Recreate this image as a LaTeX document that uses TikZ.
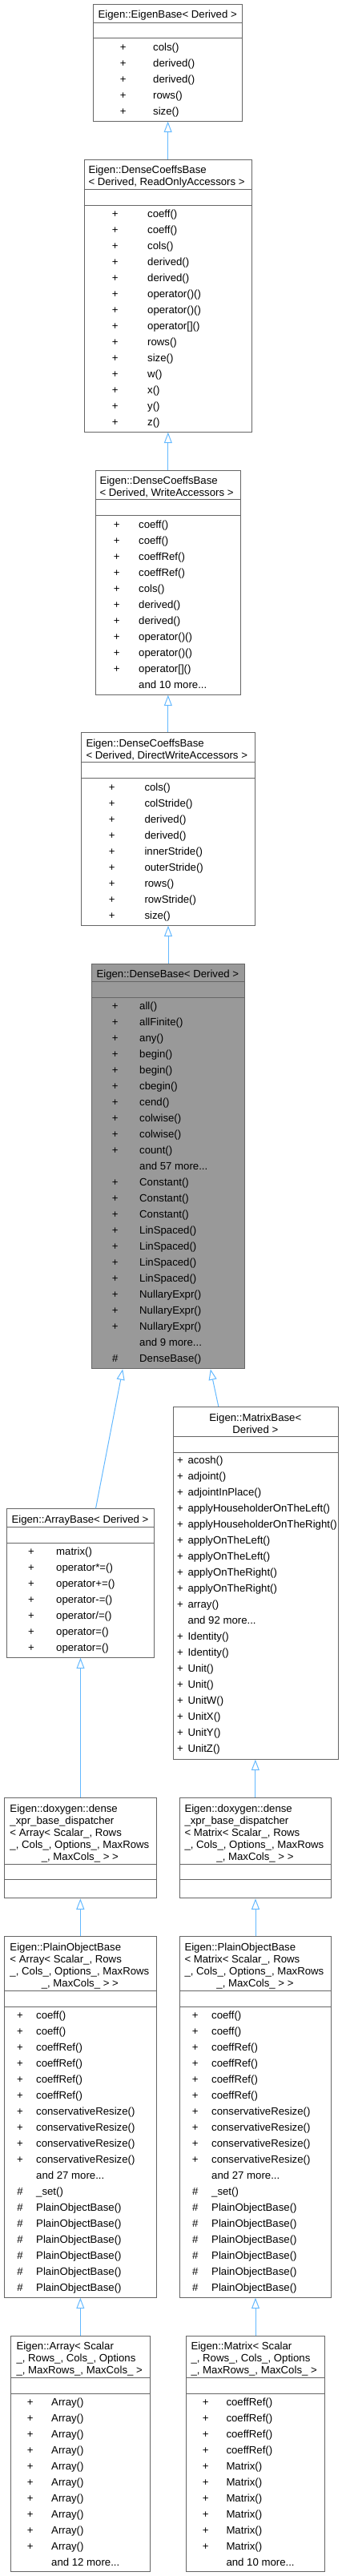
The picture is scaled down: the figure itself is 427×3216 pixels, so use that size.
\documentclass[tikz,border=0pt]{standalone}
\usepackage{fontspec}
\setmainfont{Liberation Sans}
\usetikzlibrary{arrows.meta}
\definecolor{boxgray}{HTML}{666666}
\definecolor{basefill}{HTML}{999999}
\definecolor{inhblue}{HTML}{63B8FF}
\tikzset{
  classbox/.style={draw=boxgray, line width=1pt, rectangle, inner sep=0pt, anchor=north west},
  classline/.style={draw=boxgray, line width=1pt},
  txt/.style={inner sep=0pt, font=\fontsize{13.2pt}{15pt}\selectfont},
  inh/.style={draw=inhblue, line width=1pt, {Triangle[open, length=13.5pt, width=10pt]}-}
}
\begin{document}
\begin{tikzpicture}[x=1pt, y=-1pt]
\useasboundingbox (0,0) rectangle (427,3216);

% EigenBase
\node[classbox, minimum width=185.7pt, minimum height=145.7pt] (EB) at (116.3,5) {};
\draw[classline] (EB.west |- 0,28.3) -- (EB.east |- 0,28.3);
\draw[classline] (EB.west |- 0,47.7) -- (EB.east |- 0,47.7);
\node[txt, anchor=base] (EB-t) at (209.2,22.8) {Eigen::EigenBase< Derived >};
\foreach \v/\m [count=\i from 0] in {+/cols(), +/derived(), +/derived(), +/rows(), +/size()}
  {\node[txt, anchor=base] (EB-v\i) at (153.7,63.5+20*\i) {\v};
   \node[txt, anchor=base west] (EB-m\i) at (191,63.5+20*\i) {\m};}

% DenseCoeffsBase, read only
\node[classbox, minimum width=209.3pt, minimum height=339.7pt] (RO) at (104.7,199) {};
\draw[classline] (RO.west |- 0,236) -- (RO.east |- 0,236);
\draw[classline] (RO.west |- 0,256) -- (RO.east |- 0,256);
\node[txt, anchor=base west] (RO-t1) at (110.3,216.3) {Eigen::DenseCoeffsBase};
\node[txt, anchor=base west] (RO-t2) at (110.3,231.3) {< Derived, ReadOnlyAccessors >};
\foreach \v/\m [count=\i from 0] in {+/coeff(), +/coeff(), +/cols(), +/derived(), +/derived(),
    +/operator()(), +/operator()(), +/operator[](), +/rows(), +/size(), +/w(), +/x(), +/y(), +/z()}
  {\node[txt, anchor=base] (RO-v\i) at (143.7,271.5+20*\i) {\v};
   \node[txt, anchor=base west] (RO-m\i) at (184,271.5+20*\i) {\m};}

% DenseCoeffsBase, write
\node[classbox, minimum width=181.3pt, minimum height=280.2pt] (WA) at (118.7,586.5) {};
\draw[classline] (WA.west |- 0,623.7) -- (WA.east |- 0,623.7);
\draw[classline] (WA.west |- 0,643.7) -- (WA.east |- 0,643.7);
\node[txt, anchor=base west] (WA-t1) at (124.3,604.2) {Eigen::DenseCoeffsBase};
\node[txt, anchor=base west] (WA-t2) at (124.3,619.2) {< Derived, WriteAccessors >};
\foreach \v/\m [count=\i from 0] in {+/coeff(), +/coeff(), +/coeffRef(), +/coeffRef(), +/cols(),
    +/derived(), +/derived(), +/operator()(), +/operator()(), +/operator[](), {}/{and 10 more...}}
  {\node[txt, anchor=base] (WA-v\i) at (145.7,659.5+20*\i) {\v};
   \node[txt, anchor=base west] (WA-m\i) at (173,659.5+20*\i) {\m};}

% DenseCoeffsBase, direct write
\node[classbox, minimum width=217.6pt, minimum height=240.4pt] (DW) at (100.7,914.3) {};
\draw[classline] (DW.west |- 0,951.7) -- (DW.east |- 0,951.7);
\draw[classline] (DW.west |- 0,971.7) -- (DW.east |- 0,971.7);
\node[txt, anchor=base west] (DW-t1) at (107.3,932.2) {Eigen::DenseCoeffsBase};
\node[txt, anchor=base west] (DW-t2) at (107.3,947.2) {< Derived, DirectWriteAccessors >};
\foreach \v/\m [count=\i from 0] in {+/cols(), +/colStride(), +/derived(), +/derived(),
    +/innerStride(), +/outerStride(), +/rows(), +/rowStride(), +/size()}
  {\node[txt, anchor=base] (DW-v\i) at (139.7,987.5+20*\i) {\v};
   \node[txt, anchor=base west] (DW-m\i) at (180.3,987.5+20*\i) {\m};}

% DenseBase
\node[classbox, fill=basefill, minimum width=190.7pt, minimum height=505.6pt] (DB) at (114,1202.7) {};
\draw[classline] (DB.west |- 0,1225.7) -- (DB.east |- 0,1225.7);
\draw[classline] (DB.west |- 0,1245.3) -- (DB.east |- 0,1245.3);
\node[txt, anchor=base] (DB-t) at (209.35,1220.2) {Eigen::DenseBase< Derived >};
\foreach \v/\m [count=\i from 0] in {+/all(), +/allFinite(), +/any(), +/begin(), +/begin(),
    +/cbegin(), +/cend(), +/colwise(), +/colwise(), +/count(), {}/{and 57 more...},
    +/Constant(), +/Constant(), +/Constant(), +/LinSpaced(), +/LinSpaced(), +/LinSpaced(),
    +/LinSpaced(), +/NullaryExpr(), +/NullaryExpr(), +/NullaryExpr(), {}/{and 9 more...},
    \#/DenseBase()}
  {\node[txt, anchor=base] (DB-v\i) at (143.7,1260.8+20*\i) {\v};
   \node[txt, anchor=base west] (DB-m\i) at (174,1260.8+20*\i) {\m};}

% MatrixBase
\node[classbox, minimum width=205.7pt, minimum height=439.7pt] (MB) at (216,1756) {};
\draw[classline] (MB.west |- 0,1793.3) -- (MB.east |- 0,1793.3);
\draw[classline] (MB.west |- 0,1813.3) -- (MB.east |- 0,1813.3);
\node[txt, anchor=base] (MB-t1) at (318.85,1774.5) {Eigen::MatrixBase<};
\node[txt, anchor=base] (MB-t2) at (318.85,1789.5) {Derived >};
\foreach \v/\m [count=\i from 0] in {+/acosh(), +/adjoint(), +/adjointInPlace(),
    +/applyHouseholderOnTheLeft(), +/applyHouseholderOnTheRight(), +/applyOnTheLeft(),
    +/applyOnTheLeft(), +/applyOnTheRight(), +/applyOnTheRight(), +/array(),
    {}/{and 92 more...}, +/Identity(), +/Identity(), +/Unit(), +/Unit(), +/UnitW(),
    +/UnitX(), +/UnitY(), +/UnitZ()}
  {\node[txt, anchor=base] (MB-v\i) at (225,1827.8+20*\i) {\v};
   \node[txt, anchor=base west] (MB-m\i) at (234.3,1827.8+20*\i) {\m};}

% ArrayBase
\node[classbox, minimum width=184.6pt, minimum height=185.4pt] (AB) at (7.7,1883.3) {};
\draw[classline] (AB.west |- 0,1906) -- (AB.east |- 0,1906);
\draw[classline] (AB.west |- 0,1926) -- (AB.east |- 0,1926);
\node[txt, anchor=base] (AB-t) at (100,1901.2) {Eigen::ArrayBase< Derived >};
\foreach \v/\m [count=\i from 0] in {+/matrix(), +/operator*=(), +/operator+=(), +/operator-=(),
    +/{operator/=()}, +/operator=(), +/operator=()}
  {\node[txt, anchor=base] (AB-v\i) at (39,1941.2+20*\i) {\v};
   \node[txt, anchor=base west] (AB-m\i) at (70,1941.2+20*\i) {\m};}

% dispatcher, array side
\node[classbox, minimum width=189.7pt, minimum height=125.3pt] (DA) at (5,2244) {};
\draw[classline] (DA.west |- 0,2327) -- (DA.east |- 0,2327);
\draw[classline] (DA.west |- 0,2346.7) -- (DA.east |- 0,2346.7);
\node[txt, anchor=base west] (DA-t1) at (12.3,2262.2) {Eigen::doxygen::dense};
\node[txt, anchor=base west] (DA-t2) at (12.3,2277.2) {\_xpr\_base\_dispatcher};
\node[txt, anchor=base west] (DA-t3) at (12.3,2292.2) {< Array< Scalar\_, Rows};
\node[txt, anchor=base west] (DA-t4) at (12.3,2307.2) {\_, Cols\_, Options\_, MaxRows};
\node[txt, anchor=base] (DA-t5) at (99.85,2322.2) {\_, MaxCols\_ > >};

% dispatcher, matrix side
\node[classbox, minimum width=189.6pt, minimum height=125.3pt] (DM) at (223.7,2244) {};
\draw[classline] (DM.west |- 0,2327) -- (DM.east |- 0,2327);
\draw[classline] (DM.west |- 0,2346.7) -- (DM.east |- 0,2346.7);
\node[txt, anchor=base west] (DM-t1) at (230.3,2262.2) {Eigen::doxygen::dense};
\node[txt, anchor=base west] (DM-t2) at (230.3,2277.2) {\_xpr\_base\_dispatcher};
\node[txt, anchor=base west] (DM-t3) at (230.3,2292.2) {< Matrix< Scalar\_, Rows};
\node[txt, anchor=base west] (DM-t4) at (230.3,2307.2) {\_, Cols\_, Options\_, MaxRows};
\node[txt, anchor=base] (DM-t5) at (318.5,2322.2) {\_, MaxCols\_ > >};

% PlainObjectBase, array side
\node[classbox, minimum width=189.7pt, minimum height=450.4pt] (PA) at (5,2417.3) {};
\draw[classline] (PA.west |- 0,2485.3) -- (PA.east |- 0,2485.3);
\draw[classline] (PA.west |- 0,2505.3) -- (PA.east |- 0,2505.3);
\node[txt, anchor=base west] (PA-t1) at (12.3,2435.2) {Eigen::PlainObjectBase};
\node[txt, anchor=base west] (PA-t2) at (12.3,2450.2) {< Array< Scalar\_, Rows};
\node[txt, anchor=base west] (PA-t3) at (12.3,2465.2) {\_, Cols\_, Options\_, MaxRows};
\node[txt, anchor=base] (PA-t4) at (99.85,2480.2) {\_, MaxCols\_ > >};
\foreach \v/\m [count=\i from 0] in {+/coeff(), +/coeff(), +/coeffRef(), +/coeffRef(),
    +/coeffRef(), +/coeffRef(), +/conservativeResize(), +/conservativeResize(),
    +/conservativeResize(), +/conservativeResize(), {}/{and 27 more...}, \#/\_set(),
    \#/PlainObjectBase(), \#/PlainObjectBase(), \#/PlainObjectBase(),
    \#/PlainObjectBase(), \#/PlainObjectBase(), \#/PlainObjectBase()}
  {\node[txt, anchor=base] (PA-v\i) at (25,2520.5+20*\i) {\v};
   \node[txt, anchor=base west] (PA-m\i) at (45,2520.5+20*\i) {\m};}

% PlainObjectBase, matrix side
\node[classbox, minimum width=189.6pt, minimum height=450.4pt] (PM) at (223.7,2417.3) {};
\draw[classline] (PM.west |- 0,2485.3) -- (PM.east |- 0,2485.3);
\draw[classline] (PM.west |- 0,2505.3) -- (PM.east |- 0,2505.3);
\node[txt, anchor=base west] (PM-t1) at (230.3,2435.2) {Eigen::PlainObjectBase};
\node[txt, anchor=base west] (PM-t2) at (230.3,2450.2) {< Matrix< Scalar\_, Rows};
\node[txt, anchor=base west] (PM-t3) at (230.3,2465.2) {\_, Cols\_, Options\_, MaxRows};
\node[txt, anchor=base] (PM-t4) at (318.5,2480.2) {\_, MaxCols\_ > >};
\foreach \v/\m [count=\i from 0] in {+/coeff(), +/coeff(), +/coeffRef(), +/coeffRef(),
    +/coeffRef(), +/coeffRef(), +/conservativeResize(), +/conservativeResize(),
    +/conservativeResize(), +/conservativeResize(), {}/{and 27 more...}, \#/\_set(),
    \#/PlainObjectBase(), \#/PlainObjectBase(), \#/PlainObjectBase(),
    \#/PlainObjectBase(), \#/PlainObjectBase(), \#/PlainObjectBase()}
  {\node[txt, anchor=base] (PM-v\i) at (243.7,2520.5+20*\i) {\v};
   \node[txt, anchor=base west] (PM-m\i) at (264,2520.5+20*\i) {\m};}

% Array
\node[classbox, minimum width=173.7pt, minimum height=294pt] (AR) at (13,2916) {};
\draw[classline] (AR.west |- 0,2968) -- (AR.east |- 0,2968);
\draw[classline] (AR.west |- 0,2988.3) -- (AR.east |- 0,2988.3);
\node[txt, anchor=base west] (AR-t1) at (20.3,2933.8) {Eigen::Array< Scalar};
\node[txt, anchor=base west] (AR-t2) at (20.3,2948.8) {\_, Rows\_, Cols\_, Options};
\node[txt, anchor=base west] (AR-t3) at (20.3,2963.8) {\_, MaxRows\_, MaxCols\_ >};
\foreach \v/\m [count=\i from 0] in {+/Array(), +/Array(), +/Array(), +/Array(), +/Array(),
    +/Array(), +/Array(), +/Array(), +/Array(), +/Array(), {}/{and 12 more...}}
  {\node[txt, anchor=base] (AR-v\i) at (37.7,3003.8+20*\i) {\v};
   \node[txt, anchor=base west] (AR-m\i) at (64,3003.8+20*\i) {\m};}

% Matrix
\node[classbox, minimum width=173.3pt, minimum height=294pt] (MA) at (232,2916) {};
\draw[classline] (MA.west |- 0,2968) -- (MA.east |- 0,2968);
\draw[classline] (MA.west |- 0,2988.3) -- (MA.east |- 0,2988.3);
\node[txt, anchor=base west] (MA-t1) at (238.3,2933.8) {Eigen::Matrix< Scalar};
\node[txt, anchor=base west] (MA-t2) at (238.3,2948.8) {\_, Rows\_, Cols\_, Options};
\node[txt, anchor=base west] (MA-t3) at (238.3,2963.8) {\_, MaxRows\_, MaxCols\_ >};
\foreach \v/\m [count=\i from 0] in {+/coeffRef(), +/coeffRef(), +/coeffRef(), +/coeffRef(),
    +/Matrix(), +/Matrix(), +/Matrix(), +/Matrix(), +/Matrix(), +/Matrix(), {}/{and 10 more...}}
  {\node[txt, anchor=base] (MA-v\i) at (256.7,3003.8+20*\i) {\v};
   \node[txt, anchor=base west] (MA-m\i) at (282.3,3003.8+20*\i) {\m};}

% inheritance
\draw[inh] (EB.south) -- (EB.south |- RO.north);
\draw[inh] (RO.south) -- (RO.south |- WA.north);
\draw[inh] (WA.south) -- (WA.south |- DW.north);
\draw[inh] (DW.south) -- (DW.south |- DB.north);
\draw[inh] ([xshift=-56.65pt]DB.south) -- ([xshift=19pt]AB.north);
\draw[inh] ([xshift=52.95pt]DB.south) -- ([xshift=-46.55pt]MB.north);
\draw[inh] (AB.south) -- (AB.south |- DA.north);
\draw[inh] ([xshift=-0.5pt]MB.south) -- ([xshift=-0.5pt]MB.south |- DM.north);
\draw[inh] (DA.south) -- (DA.south |- PA.north);
\draw[inh] (DM.south) -- (DM.south |- PM.north);
\draw[inh] (PA.south) -- (PA.south |- AR.north);
\draw[inh] (PM.south) -- (PM.south |- MA.north);
\end{tikzpicture}
\end{document}
